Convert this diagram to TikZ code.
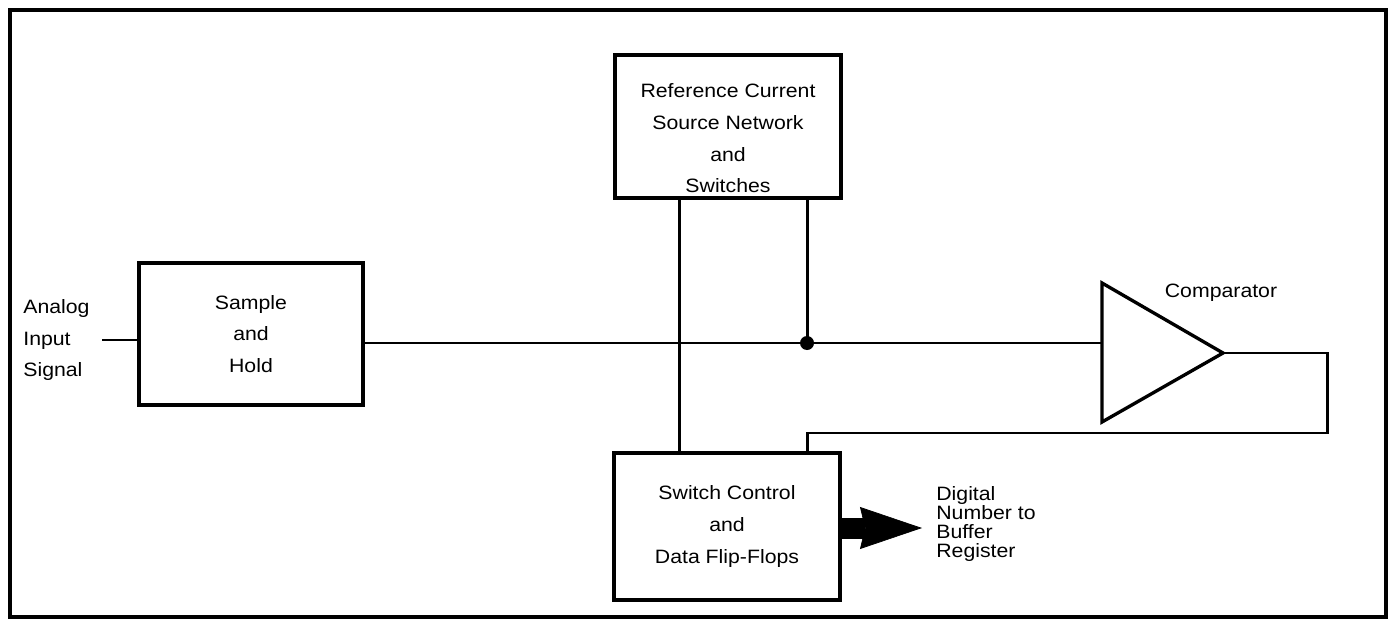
\documentclass[tikz,border=0pt]{standalone}
\usepackage{fontspec}
\setmainfont{Liberation Sans}[FakeStretch=1.1]
\usepackage{tikz}
\usetikzlibrary{arrows.meta}
\newcommand{\blockfont}{\fontsize{11}{18}\selectfont}
\newcommand{\notefont}{\fontsize{11}{10.8}\selectfont}

\begin{document}
\begin{tikzpicture}[x=0.2mm,y=-0.2mm,
    blockbox/.style={draw,line width=1.9pt,align=center,inner sep=0pt,font=\blockfont},
    wire/.style={line width=1.7pt},
    busline/.style={line width=4.2mm,-{Stealth[length=12.4mm,width=8.4mm,inset=1mm,line width=0.4pt]}}]
  \useasboundingbox (0,0) rectangle (1395,623);
  \draw[line width=1.8pt] (10,10) rectangle (1386,617);
  % blocks
  \node[blockbox,minimum width=45.2mm,minimum height=28.6mm] (ref) at (728,126.5) {};
  \node[font=\blockfont,align=center,inner sep=0pt] (reftext) at (728,138.5) {Reference Current\\Source Network\\and\\Switches};
  \node[blockbox,minimum width=44.8mm,minimum height=28.4mm] (sh) at (251,334) {Sample\\and\\Hold};
  \node[blockbox,minimum width=45.2mm,minimum height=29.4mm] (sw) at (727,526.5) {Switch Control\\and\\Data Flip-Flops};
  \node[font=\blockfont,align=left,anchor=west,inner sep=0pt] (ain) at (23,340) {Analog\\Input\\Signal};
  % comparator
  \coordinate (cmpa) at (1223,353);
  \draw[line width=1.9pt,line join=miter] (1102,283) -- (cmpa) -- (1102,422) -- cycle;
  \coordinate (cmpin) at (1102,345);
  \node[font=\blockfont,inner sep=0pt] (cmplabel) at (1221,293) {Comparator};
  % wiring
  \coordinate (inend) at (102,340);
  \coordinate (jn) at (807,343);
  \coordinate (ctl) at (679,400);
  \coordinate (fb) at (1327,433);
  \draw[wire] (inend) -- (inend -| sh.west);
  \draw[wire] (sh.east |- jn) -- (jn) -- (cmpin |- jn);
  \draw[wire] (ref.south -| jn) -- (jn);
  \fill (jn) circle (1.4mm);
  \draw[wire] (ref.south -| ctl) -- (sw.north -| ctl);
  \draw[wire] (cmpa) -| (fb) -- (fb -| jn) -- (sw.north -| jn);
  % output bus
  \coordinate (bus) at (922,528);
  \draw[busline] (sw.east |- bus) -- (bus);
  \node[font=\notefont,align=left,anchor=west,inner sep=0pt] (buslabel) at (936,524) {Digital\\Number to\\Buffer\\Register};
\end{tikzpicture}
\end{document}
